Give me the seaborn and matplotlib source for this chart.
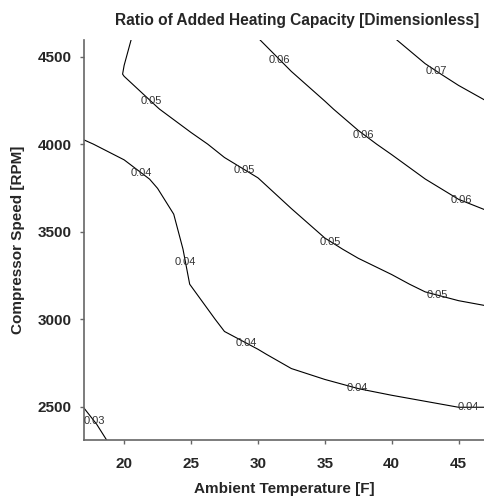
import numpy as np
import matplotlib
matplotlib.use("Agg")
import matplotlib.pyplot as plt
import seaborn as sns

# Grid of ambient temperature [F] and compressor speed [RPM]
temps = [17, 20, 22.5, 25, 27.5, 30, 32.5, 35, 37.5, 40, 42.5, 45, 47]
speeds = [2300, 2400, 2600, 2800, 3000, 3200, 3400, 3600, 3800, 4000, 4200, 4400, 4600]

# Ratio values, one list per temperature column (bottom -> top in speed)
z_t17 = [0.0287, 0.0294, 0.0307, 0.0319, 0.0332, 0.0345, 0.0357, 0.0370, 0.0383, 0.0396, 0.0429, 0.0450, 0.0465]
z_t20 = [0.0309, 0.0313, 0.0325, 0.0338, 0.0350, 0.0362, 0.0370, 0.0378, 0.0384, 0.0413, 0.0470, 0.0502, 0.0494]
z_t22 = [0.0320, 0.0326, 0.0339, 0.0352, 0.0365, 0.0376, 0.0381, 0.0386, 0.0405, 0.0452, 0.0499, 0.0519, 0.0522]
z_t25 = [0.0330, 0.0338, 0.0353, 0.0367, 0.0382, 0.0401, 0.0406, 0.0415, 0.0453, 0.0492, 0.0516, 0.0537, 0.0552]
z_t27 = [0.0337, 0.0347, 0.0367, 0.0387, 0.0407, 0.0427, 0.0447, 0.0467, 0.0487, 0.0508, 0.0530, 0.0552, 0.0574]
z_t30 = [0.0346, 0.0356, 0.0377, 0.0397, 0.0418, 0.0438, 0.0459, 0.0479, 0.0499, 0.0525, 0.0550, 0.0575, 0.0599]
z_t32 = [0.0354, 0.0365, 0.0387, 0.0409, 0.0431, 0.0453, 0.0474, 0.0496, 0.0521, 0.0547, 0.0572, 0.0598, 0.0624]
z_t35 = [0.0356, 0.0369, 0.0393, 0.0418, 0.0443, 0.0467, 0.0492, 0.0517, 0.0543, 0.0568, 0.0594, 0.0620, 0.0647]
z_t37 = [0.0359, 0.0373, 0.03995, 0.0426, 0.0453, 0.0480, 0.0507, 0.0534, 0.0561, 0.0589, 0.0617, 0.0645, 0.0674]
z_t40 = [0.0361, 0.0376, 0.0405, 0.0434, 0.0463, 0.0492, 0.0521, 0.0550, 0.0579, 0.0609, 0.0639, 0.0670, 0.0697]
z_t42 = [0.0363, 0.0379, 0.0411, 0.0443, 0.0475, 0.0507, 0.0538, 0.0569, 0.05998, 0.0630, 0.0660, 0.0691, 0.0721]
z_t45 = [0.0367, 0.0384, 0.0417, 0.0449, 0.0482, 0.0516, 0.0551, 0.0586, 0.0619, 0.0649, 0.0679, 0.0710, 0.0740]
z_t47 = [0.0366, 0.0383, 0.0418, 0.0452, 0.0486, 0.0522, 0.0559, 0.0596, 0.0629, 0.0660, 0.0692, 0.0724, 0.0756]

levels = [0.03, 0.04, 0.05, 0.06, 0.07]
xticks = [20, 25, 30, 35, 40, 45]
yticks = [2500, 3000, 3500, 4000, 4500]

# label placement (positions only)
label_spots = [(17.5, 2400),
               (21.3, 3835), (24.3, 3320), (29.0, 2850), (37.4, 2605), (45.7, 2498),
               (21.9, 4235), (29.0, 3852), (35.3, 3429), (43.4, 3130),
               (31.6, 4481), (38.0, 4063), (45.2, 3680),
               (43.3, 4412)]

sns.set_theme(style="ticks")
plt.rcParams['font.family'] = ['Liberation Sans', 'DejaVu Sans']

Z = np.array([z_t17, z_t20, z_t22, z_t25, z_t27, z_t30, z_t32, z_t35,
              z_t37, z_t40, z_t42, z_t45, z_t47]).T

fig = plt.figure(figsize=(4.84, 4.97), dpi=100)
ax = fig.add_axes([84 / 484, 57 / 497, 400 / 484, 400 / 497])

cs = ax.contour(temps, speeds, Z, levels=levels, colors='black', linewidths=0.8)
texts = ax.clabel(cs, levels=levels, inline=False, fontsize=8, fmt='%.2f',
                  colors='#333333', manual=label_spots)
for t in texts:
    t.set_rotation(0)

ax.set_xlim(17, 46.9)
ax.set_ylim(2310, 4595)
ax.set_xticks(xticks)
ax.set_yticks(yticks)
ax.set_xticklabels([str(v) for v in xticks], fontsize=11, fontweight='bold')
ax.set_yticklabels([str(v) for v in yticks], fontsize=11, fontweight='bold')
ax.tick_params(axis='x', length=3, width=1, color='#666666', pad=9)
ax.tick_params(axis='y', length=3, width=1, color='#666666', pad=6)

sns.despine(ax=ax)
for s in ['left', 'bottom']:
    ax.spines[s].set_color('#666666')
    ax.spines[s].set_linewidth(1.2)

ax.set_xlabel('Ambient Temperature [F]', fontsize=11, fontweight='bold', labelpad=8)
ax.set_ylabel('Compressor Speed [RPM]', fontsize=11, fontweight='bold', labelpad=9)
ax.set_title('Ratio of Added Heating Capacity [Dimensionless]', fontsize=11.2,
             fontweight='bold', pad=11)
ax.title.set_x(0.5325)

fig.savefig('out.png', dpi=100)
